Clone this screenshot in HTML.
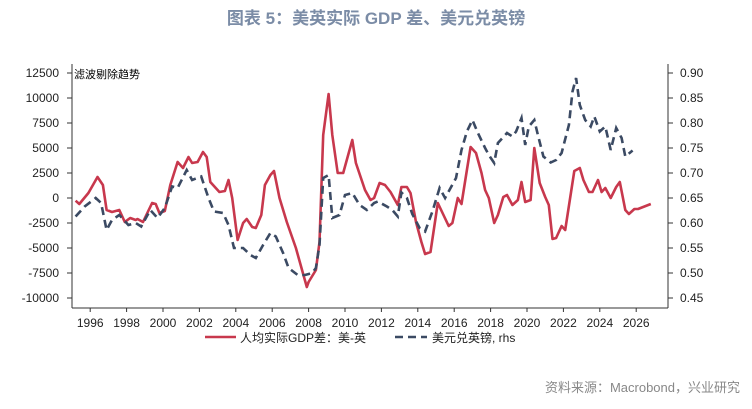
<!DOCTYPE html>
<html><head><meta charset="utf-8">
<style>
body{margin:0;background:#fff;width:752px;height:404px;overflow:hidden;font-family:"Liberation Sans","Noto Sans CJK SC",sans-serif;}
svg text{font-family:"Liberation Sans","Noto Sans CJK SC",sans-serif;}
</style></head><body>
<svg id="chart" width="752" height="404" xmlns="http://www.w3.org/2000/svg">
<text x="376" y="24" text-anchor="middle" font-size="17" font-weight="bold" fill="#7b8ca6">图表 5：美英实际 GDP 差、美元兑英镑</text>
<text x="74" y="78" font-size="11" fill="#000">滤波剔除趋势</text>
<g id="axes"></g>
<path id="gdp-line" fill="none" stroke="#c8384d" stroke-width="2.6" stroke-linejoin="round"/>
<path id="fx-line" fill="none" stroke="#3b4a63" stroke-width="2.6" stroke-dasharray="8,5"/>
<g>
<line x1="205" y1="337" x2="236" y2="337" stroke="#c8384d" stroke-width="2.6"/>
<text x="240" y="342" font-size="12" fill="#222">人均实际GDP差：美-英</text>
<line x1="395" y1="337" x2="427" y2="337" stroke="#3b4a63" stroke-width="2.6" stroke-dasharray="8,5"/>
<text x="432" y="342" font-size="12" fill="#222">美元兑英镑, rhs</text>
</g>
<text x="740" y="392" text-anchor="end" font-size="13" fill="#888">资料来源：Macrobond，兴业研究</text>
</svg>
<script>
const gdpYears=[1995.2,1995.4,1995.9,1996.4,1996.7,1996.9,1997.2,1997.6,1997.9,1998.2,1998.5,1998.6,1998.9,1999.4,1999.6,1999.8,2000.1,2000.4,2000.8,2001.1,2001.4,2001.6,2001.9,2002.2,2002.4,2002.6,2003.1,2003.4,2003.6,2003.8,2004.1,2004.4,2004.6,2004.9,2005.1,2005.4,2005.6,2005.9,2006.1,2006.4,2006.8,2007.3,2007.9,2008.0,2008.4,2008.6,2008.8,2009.1,2009.3,2009.6,2009.9,2010.4,2010.6,2011.1,2011.4,2011.6,2011.9,2012.2,2012.5,2012.9,2013.1,2013.4,2013.6,2013.9,2014.2,2014.4,2014.7,2015.1,2015.7,2015.9,2016.2,2016.4,2016.7,2016.9,2017.2,2017.5,2017.7,2017.9,2018.2,2018.4,2018.7,2018.9,2019.2,2019.5,2019.7,2019.9,2020.2,2020.4,2020.7,2021.0,2021.2,2021.4,2021.6,2021.9,2022.1,2022.6,2022.9,2023.1,2023.4,2023.6,2023.9,2024.1,2024.3,2024.6,2024.9,2025.1,2025.4,2025.6,2025.9,2026.1,2026.8];
const gdpValues=[-270,-600,500,2100,1300,-1200,-1400,-1200,-2400,-2000,-2200,-2100,-2400,-500,-600,-1500,-1300,1300,3600,3000,4100,3500,3600,4600,4100,1600,600,700,1800,0,-4200,-2500,-2100,-2900,-3000,-1700,1300,2300,2700,0,-2400,-5000,-8900,-8400,-7200,-4400,6300,10400,6300,2500,2500,5800,3500,800,-200,0,1500,1300,600,-700,1100,1100,500,-2400,-4400,-5600,-5400,-500,-2800,-2500,0,-600,2800,5100,4500,2500,800,0,-2500,-1700,100,300,-700,-200,1600,-400,-200,5000,1500,100,-700,-4100,-4000,-2800,-3200,2700,3000,1800,600,600,1800,600,1000,0,1100,1600,-1200,-1600,-1100,-1100,-600];
const fxYears=[1995.2,1995.7,1996.3,1996.6,1996.9,1997.2,1997.6,1998.1,1998.5,1998.8,1999.3,1999.7,2000.1,2000.5,2000.8,2001.3,2001.6,2002.1,2002.5,2002.8,2003.3,2003.6,2003.9,2004.4,2004.8,2005.1,2005.5,2005.9,2006.2,2006.6,2006.9,2007.4,2007.8,2008.2,2008.4,2008.6,2008.8,2009.1,2009.3,2009.7,2010.0,2010.4,2010.8,2011.2,2011.6,2011.8,2012.3,2012.6,2012.9,2013.1,2013.4,2013.7,2014.1,2014.4,2014.8,2015.2,2015.5,2016.1,2016.4,2016.7,2017.0,2017.3,2017.7,2017.9,2018.2,2018.4,2018.9,2019.2,2019.4,2019.7,2019.9,2020.1,2020.4,2020.6,2020.9,2021.3,2021.6,2021.9,2022.3,2022.5,2022.7,2022.9,2023.2,2023.5,2023.7,2024.0,2024.3,2024.6,2024.9,2025.2,2025.4,2025.8];
const fxValues=[0.613,0.633,0.65,0.64,0.586,0.606,0.616,0.596,0.60,0.593,0.626,0.61,0.63,0.673,0.67,0.706,0.686,0.693,0.65,0.623,0.62,0.596,0.55,0.55,0.536,0.53,0.556,0.58,0.573,0.54,0.51,0.496,0.496,0.50,0.51,0.556,0.69,0.696,0.61,0.616,0.656,0.66,0.636,0.626,0.64,0.643,0.633,0.626,0.613,0.661,0.65,0.618,0.59,0.583,0.623,0.67,0.65,0.69,0.746,0.783,0.806,0.78,0.75,0.736,0.72,0.76,0.78,0.773,0.783,0.81,0.756,0.793,0.806,0.776,0.733,0.721,0.726,0.74,0.796,0.863,0.89,0.836,0.806,0.793,0.813,0.783,0.793,0.746,0.79,0.77,0.733,0.745];
const leftTicks=[12500,10000,7500,5000,2500,0,-2500,-5000,-7500,-10000];
const rightTicks=[0.90,0.85,0.80,0.75,0.70,0.65,0.60,0.55,0.50,0.45];
const yearTicks=[1996,1998,2000,2002,2004,2006,2008,2010,2012,2014,2016,2018,2020,2022,2024,2026];

const X0=72,X1=668,YT=73,YB=298;
const xs=y=>X0+(y-1995)*18.2;
const yl=v=>YT+(12500-v)/22500*(YB-YT);
const yr=v=>YT+(0.90-v)/0.45*(YB-YT);
const NS='http://www.w3.org/2000/svg';
const ax=document.getElementById('axes');
function mk(t,a,txt){const e=document.createElementNS(NS,t);for(const k in a)e.setAttribute(k,a[k]);if(txt!==undefined)e.textContent=txt;ax.appendChild(e);return e;}
let e;
e=mk('line',{x1:X0,y1:64,x2:X0,y2:308,stroke:'#333','stroke-width':1});


e=mk('line',{x1:X1,y1:64,x2:X1,y2:308,stroke:'#333','stroke-width':1});


e=mk('line',{x1:X0,y1:308,x2:X1,y2:308,stroke:'#333','stroke-width':1});


leftTicks.forEach(v=>{const y=yl(v);
 mk('line',{x1:X0-5,y1:y,x2:X0,y2:y,stroke:'#333'});
 e=mk('text',{x:X0-13,y:y+4,'text-anchor':'end','font-size':12,fill:'#222'},String(v));
 
 });
rightTicks.forEach(v=>{const y=yr(v);
 mk('line',{x1:X1,y1:y,x2:X1+5,y2:y,stroke:'#333'});
 e=mk('text',{x:X1+12,y:y+4,'font-size':12,fill:'#222'},v.toFixed(2));
 
 });
yearTicks.forEach(v=>{const x=xs(v);
 mk('line',{x1:x,y1:308,x2:x,y2:312,stroke:'#333'});
 e=mk('text',{x:x,y:327,'text-anchor':'middle','font-size':12,fill:'#222'},String(v));
 
 });
document.getElementById('gdp-line').setAttribute('d',gdpYears.map((y,i)=>(i?'L':'M')+xs(y).toFixed(1)+','+yl(gdpValues[i]).toFixed(1)).join(''));
document.getElementById('fx-line').setAttribute('d',fxYears.map((y,i)=>(i?'L':'M')+xs(y).toFixed(1)+','+yr(fxValues[i]).toFixed(1)).join(''));
</script>
</body></html>
